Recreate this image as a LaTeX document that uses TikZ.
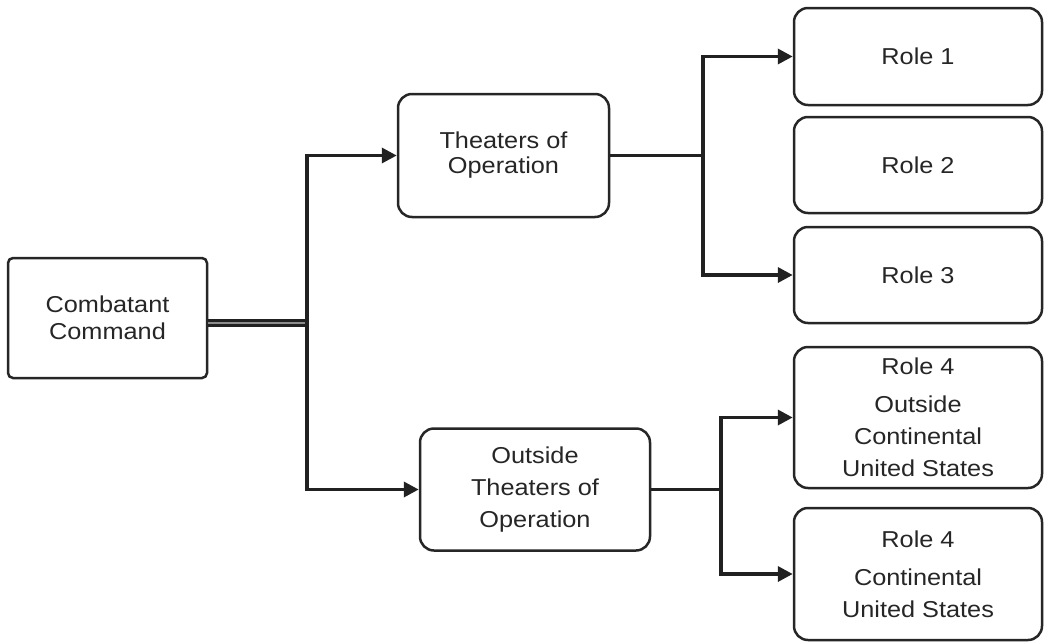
\documentclass[tikz,border=0pt]{standalone}
\usepackage{fontspec}
\setmainfont{Liberation Sans}[FakeStretch=1.1]
\usetikzlibrary{arrows.meta}
\begin{document}
\begin{tikzpicture}[x=1pt,y=-1pt,
  box/.style={draw=black!85, line width=2.5pt, rounded corners=14pt, fill=white,
    align=center, text=black!85, inner sep=0pt},
  fs/.style={font=\fontsize{23}{#1}\selectfont},
  link/.style={draw=black!87, line width=3.5pt},
  arr/.style={link, -{Triangle[length=15pt,width=15pt]}}]
\useasboundingbox (0,0) rectangle (1045,643);

% command and theater nodes
\node[box, rounded corners=5pt, fs=27, minimum width=199pt, minimum height=120pt]
  (cc) at (107.5,318) {Combatant\\Command};
\node[box, fs=25, minimum width=211pt, minimum height=123pt]
  (th) at (503.5,155.5) {Theaters of\\Operation};
\node[box, fs=32, minimum width=230pt, minimum height=122pt]
  (oth) at (535,489.5) {Outside\\Theaters of\\Operation};

% role nodes
\node[box, fs=28, minimum width=248pt, minimum height=97pt] (r1) at (918,56.5) {Role 1};
\node[box, fs=28, minimum width=248pt, minimum height=96pt] (r2) at (918,165) {Role 2};
\node[box, fs=28, minimum width=248pt, minimum height=96pt] (r3) at (918,275) {Role 3};
\node[box, fs=32, minimum width=248pt, minimum height=141pt] (r4o) at (918,417.5)
  {Role 4\\[6pt]Outside\\Continental\\United States};
\node[box, fs=32, minimum width=248pt, minimum height=132pt] (r4c) at (918,574)
  {Role 4\\[6pt]Continental\\United States};

% bus junctions
\coordinate (busA) at (307,323);
\coordinate (busB) at (703,155.5);
\coordinate (busC) at (721,489.5);

% combatant command to theaters
\draw[draw=black!87, line width=3pt, double=black!45, double distance=2.5pt]
  (cc.east |- busA) -- (busA);
\draw[arr] (busA) |- (th.west);
\draw[arr] (busA) |- (oth.west);

% theaters to roles 1 and 3
\draw[link] (th.east) -- (busB);
\draw[arr] (busB) |- (r1.west);
\draw[arr] (busB) |- (r3.west);

% outside theaters to role 4
\draw[link] (oth.east) -- (busC);
\draw[arr] (busC) |- (r4o.west);
\draw[arr] (busC) |- (r4c.west);
\end{tikzpicture}
\end{document}
